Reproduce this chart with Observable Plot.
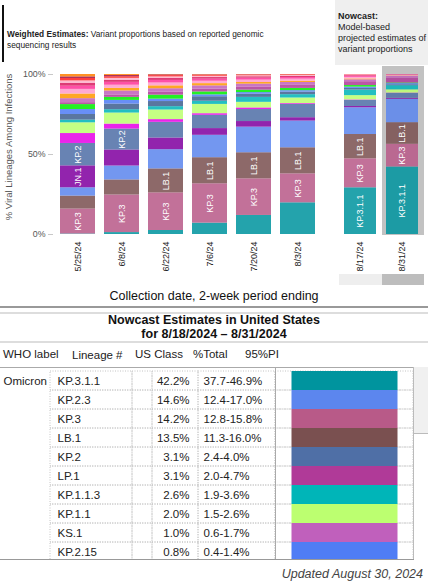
<!DOCTYPE html>
<html><head><meta charset="utf-8">
<script src="https://cdn.jsdelivr.net/npm/d3@7"></script>
<script src="https://cdn.jsdelivr.net/npm/@observablehq/plot@0.6"></script>
<style>
body{margin:0;background:#fff;font-family:"Liberation Sans",Arial,Helvetica,sans-serif;color:#222;}
#root{position:relative;width:428px;height:581px;overflow:hidden;}
.abs{position:absolute;}
.hdr{font-size:8.3px;line-height:10.5px;color:#222;white-space:nowrap;}
.th{position:absolute;top:348px;font-size:11.5px;color:#222;white-space:nowrap;}
</style></head><body><div id="root">
  <div class="abs" style="left:2px;top:5px;width:2px;height:57px;background:#111"></div>
  <div class="abs hdr" style="left:7px;top:29px"><b>Weighted Estimates:</b> <span>Variant proportions based on reported genomic</span></div>
  <div class="abs hdr" style="left:7px;top:39.5px">sequencing results</div>
  <div class="abs" style="left:335px;top:0;width:93px;height:65px;background:#efefef"></div>
  <div class="abs hdr" style="left:338px;top:10.5px;line-height:11px;font-size:9px"><b>Nowcast:</b><br>Model-based<br>projected estimates of<br>variant proportions</div>
  <div class="abs" style="left:8px;top:147px;transform:translate(-50%,-50%) rotate(-90deg);white-space:nowrap;font-size:9.5px;color:#555">% Viral Lineages Among Infections</div>
  <div id="left" class="abs" style="left:0;top:60px"></div>
  <div id="right" class="abs" style="left:330px;top:60px"></div>
  <div class="abs" style="left:339px;top:274px;width:43px;height:11px;background:#eeeeee"></div>
  <div class="abs" style="left:382px;top:274px;width:42px;height:11px;background:#bdbdbd"></div>
  <div class="abs" style="left:0;top:289px;width:428px;text-align:center;font-size:12.5px;line-height:14px;color:#111">Collection date, 2-week period ending</div>
  <div class="abs" style="left:0;top:306px;width:428px;height:2px;background:#999"></div>
  <div class="abs" style="left:0;top:312px;width:428px;height:2px;background:#ddd"></div>
  <div class="abs" style="left:0;top:313px;width:428px;text-align:center;font-size:12.5px;line-height:14px;font-weight:bold;color:#111">Nowcast Estimates in United States<br>for 8/18/2024 – 8/31/2024</div>
  <div class="abs" style="left:0;top:341px;width:428px;height:2px;background:#ddd"></div>
  <div class="th" style="left:3px">WHO label</div>
  <div class="th" style="left:72px;top:349px">Lineage #</div>
  <div class="th" style="left:135px">US Class</div>
  <div class="th" style="left:193px">%Total</div>
  <div class="th" style="left:245px">95%PI</div>
  <div class="abs" style="left:0;top:367px;width:413px;height:1px;background:#aaa"></div>
  <div id="table" class="abs" style="left:0;top:368px;width:428px;height:191px;overflow:hidden"></div>
  <div class="abs" style="left:275px;top:367px;width:1px;height:192px;background:#aaa"></div>
  <div class="abs" style="left:413px;top:367px;width:15px;height:66px;background:#f0f0f0;border-left:1px solid #bbb;border-bottom:1px solid #bbb"></div>
  <div class="abs" style="left:413px;top:433px;width:1px;height:126px;background:#bbb"></div>
  <div class="abs" style="left:0;top:559px;width:414px;height:1px;background:#999"></div>
  <div class="abs" style="right:5px;top:567px;font-size:12.5px;font-style:italic;color:#444;white-space:nowrap">Updated August 30, 2024</div>
</div>
<script>
// ---- data ----
const dates = ["5/25/24","6/8/24","6/22/24","7/6/24","7/20/24","8/3/24","8/17/24","8/31/24"];
const weightedDates = dates.slice(0, 6);
const nowcastDates = dates.slice(6);

// stack order, bottom to top
const lineages = ["KP.3.1.1","KP.3","LB.1","KP.2.3","JN.1","KP.2","JN.1.7","KP.1.1","KP.1.1.3","JN.1.18","KP.2.15","JN.1.11.1","LP.1","KS.1","JN.1.16","KP.1.2","JN.1.13.1","KP.4.1","JN.1.8.1","XDV.1","KP.2.2","Other"];
const lineageColors = ["#00949e","#b85a88","#7a5050","#5c86ee","#8000a0","#4f6fa6","#e600e6","#bcff70","#00b5b8","#3f5f8f","#4f7df5","#00ee00","#b03a98","#c060bc","#ff9900","#ff9ccc","#ff3399","#d81b60","#ffb0c8","#ff2020","#a01040","#ff7f00"];

const shareKP3_1_1  = [0.3, 1.2, 2.5, 7.1, 11.9, 19.8, 29.2, 42.2];
const shareKP3      = [15.6, 23.5, 23.5, 24.6, 22.9, 18.1, 18.1, 14.2];
const shareLB1      = [8.1, 9.4, 15.0, 16.3, 16.3, 16.3, 15.2, 13.5];
const shareKP2_3    = [5.2, 8.7, 12.0, 14.0, 16.0, 16.7, 16.7, 14.6];
const shareJN1      = [13.7, 10.0, 7.3, 4.2, 3.5, 2.1, 0.8, 0.6];
const shareKP2      = [14.0, 13.1, 9.8, 8.3, 7.5, 8.3, 3.8, 3.1];
const shareJN1_7    = [6.2, 3.1, 1.7, 1.0, 1.0, 0.5, 0.3, 0.2];
const shareKP1_1    = [6.7, 6.9, 6.0, 5.8, 3.5, 3.5, 2.7, 2.0];
const shareKP1_1_3  = [1.7, 2.1, 2.1, 2.0, 3.1, 2.1, 3.5, 2.6];
const shareJN1_18   = [3.5, 3.5, 3.2, 2.8, 2.0, 1.6, 1.0, 0.5];
const shareKP2_15   = [3.1, 2.3, 1.5, 1.2, 1.0, 0.9, 0.8, 0.8];
const shareJN1_11_1 = [3.1, 1.9, 2.5, 1.8, 1.5, 1.4, 1.0, 0.4];
const shareLP1      = [1.2, 1.5, 1.8, 1.8, 2.0, 2.2, 2.4, 3.1];
const shareKS1      = [2.5, 2.5, 2.2, 2.0, 1.8, 1.5, 1.2, 1.0];
const shareJN1_16   = [2.9, 1.6, 1.8, 1.4, 1.0, 0.8, 0.5, 0.2];
const shareKP1_2    = [2.9, 2.0, 1.8, 1.5, 1.5, 1.3, 1.0, 0.4];
const shareJN1_13_1 = [2.0, 1.8, 1.6, 1.3, 1.2, 1.0, 0.8, 0.3];
const shareKP4_1    = [1.8, 1.3, 1.2, 1.0, 0.9, 0.8, 0.5, 0.2];
const shareJN1_8_1  = [1.5, 1.2, 1.0, 0.8, 0.6, 0.5, 0.3, 0.1];
const shareXDV1     = [1.5, 1.0, 0.8, 0.6, 0.5, 0.4, 0.2, 0.0];
const shareKP2_2    = [1.0, 0.8, 0.5, 0.3, 0.2, 0.1, 0.0, 0.0];
const shareOther    = [1.5, 0.6, 0.2, 0.2, 0.1, 0.1, 0.0, 0.0];

const shares = [shareKP3_1_1, shareKP3, shareLB1, shareKP2_3, shareJN1, shareKP2, shareJN1_7, shareKP1_1, shareKP1_1_3, shareJN1_18, shareKP2_15, shareJN1_11_1, shareLP1, shareKS1, shareJN1_16, shareKP1_2, shareJN1_13_1, shareKP4_1, shareJN1_8_1, shareXDV1, shareKP2_2, shareOther];

// in-bar labels: lineage -> periods where it is labelled
const barLabels = [
  ["KP.3.1.1", ["8/17/24","8/31/24"]],
  ["KP.3", dates],
  ["LB.1", dates.slice(2)],
  ["JN.1", ["5/25/24"]],
  ["KP.2", ["5/25/24","6/8/24"]]
];

// nowcast table
const whoLabel = "Omicron";
const tableLineages = ["KP.3.1.1","KP.2.3","KP.3","LB.1","KP.2","LP.1","KP.1.1.3","KP.1.1","KS.1","KP.2.15"];
const tablePct = [42.2, 14.6, 14.2, 13.5, 3.1, 3.1, 2.6, 2.0, 1.0, 0.8];
const tablePI = ["37.7-46.9%","12.4-17.0%","12.8-15.8%","11.3-16.0%","2.4-4.0%","2.0-4.7%","1.9-3.6%","1.5-2.6%","0.6-1.7%","0.4-1.4%"];

// ---- build ----
const FONT = '"Liberation Sans", Arial, sans-serif';
const rows = [];
dates.forEach((date, i) => lineages.forEach((lineage, j) => rows.push({date, lineage, share: shares[j][i]})));
const labelText = d => barLabels.some(([l, ds]) => l === d.lineage && ds.includes(d.date)) ? d.lineage : "";
const color = {domain: lineages, range: lineageColors};

function stackMarks(data) {
  return [
    Plot.barY(data, Plot.stackY({x: "date", y: "share", fill: "lineage", fillOpacity: 0.86})),
    Plot.text(data, Plot.stackY({x: "date", y: "share", text: labelText, rotate: -90, fill: "white", fontSize: 9}))
  ];
}

const leftRows = rows.filter(d => weightedDates.includes(d.date));
const rightRows = rows.filter(d => nowcastDates.includes(d.date));

const left = Plot.plot({
  width: 330, height: 240, marginTop: 14, marginBottom: 66, marginLeft: 50, marginRight: 5,
  x: {domain: weightedDates, padding: 0.21, label: null},
  y: {domain: [0, 100], label: null},
  color,
  style: {fontFamily: FONT, fontSize: "9px", color: "#444", background: "transparent"},
  marks: [
    Plot.axisY({ticks: [0, 50, 100], tickFormat: d => d + "%", tickSize: 5, tickPadding: 3, dx: 3, stroke: "#c8c8c8", fill: "#555", label: null, fontSize: 8.8}),
    Plot.axisX({tickRotate: -90, tickSize: 0, tickPadding: 7, label: null, fill: "#222"}),
    ...stackMarks(leftRows)
  ]
});
document.getElementById("left").append(left);

const right = Plot.plot({
  width: 98, height: 240, marginTop: 14, marginBottom: 66, marginLeft: 4, marginRight: 0,
  x: {domain: nowcastDates, padding: 0.23, label: null},
  y: {domain: [0, 100], axis: null},
  color,
  style: {fontFamily: FONT, fontSize: "9px", color: "#222", background: "transparent"},
  marks: [
    Plot.barY([nowcastDates[1]], {x: d => d, y1: 0, y2: 100, fill: "#c2c2c2", insetLeft: -4, insetRight: -6, insetTop: -8, insetBottom: -1}),
    Plot.axisX({tickRotate: -90, tickSize: 0, tickPadding: 7, label: null, fill: "#222"}),
    ...stackMarks(rightRows)
  ]
});
document.getElementById("right").append(right);

const tableRows = tableLineages.map((lineage, i) => ({lineage, pct: tablePct[i], pi: tablePI[i]}));
const colBounds = [[50, 132], [132, 152], [152, 198], [198, 275], [275, 413]];
const table = Plot.plot({
  width: 428, height: 195, marginTop: 1, marginBottom: 0, marginLeft: 0, marginRight: 0,
  y: {domain: tableLineages, padding: 0, axis: null},
  color,
  style: {fontFamily: FONT, fontSize: "11.5px", color: "#222", background: "transparent"},
  marks: [
    ...colBounds.map(([a, b]) => Plot.cell(tableRows, {y: "lineage", fill: "none", stroke: "#c4c4c4", strokeDasharray: "1,1.5", insetLeft: a, insetRight: 428 - b})),
    Plot.cell(tableRows, {y: "lineage", fill: "lineage", stroke: "lineage", insetLeft: 292, insetRight: 31, insetTop: 0.5, insetBottom: 0.5}),
    Plot.text(tableRows, {y: "lineage", text: "lineage", frameAnchor: "left", dx: 57, fill: "#222", fontSize: 11.5}),
    Plot.text(tableRows, {y: "lineage", text: d => d.pct.toFixed(1) + "%", frameAnchor: "left", textAnchor: "end", dx: 189, fill: "#222", fontSize: 11.5}),
    Plot.text(tableRows, {y: "lineage", text: "pi", frameAnchor: "left", dx: 203, fill: "#222", fontSize: 11.5}),
    Plot.text([whoLabel], {y: () => tableLineages[0], text: d => d, frameAnchor: "left", dx: 3, fill: "#222", fontSize: 11.5})
  ]
});
document.getElementById("table").append(table);
</script>
</body></html>
